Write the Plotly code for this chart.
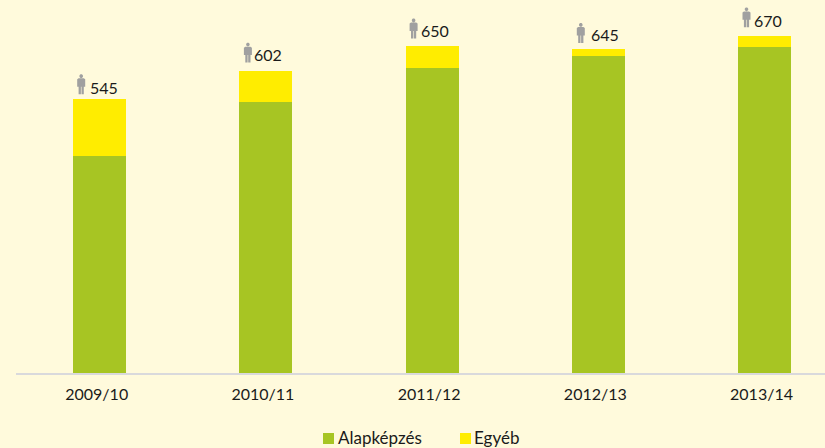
import plotly.graph_objects as go

# --- data ---
years = ["2009/10", "2010/11", "2011/12", "2012/13", "2013/14"]
alapkepzes = [432, 539, 607, 631, 649]
egyeb = [113, 63, 43, 14, 21]
totals = [545, 602, 650, 645, 670]
series_names = ["Alapképzés", "Egyéb"]

# --- style ---
BG = "#FFFADC"
GREEN = "#A7C523"
YELLOW = "#FFED00"
GREY = "#A0A0A0"
TEXT = "#1A1A1A"
FONT = "Lato"

# label / icon offsets from each bar's top centre, in pixels
label_dx = [4.5, 2.5, 3, 6.5, 3.5]
label_dy = [12, 16, 16, 14, 16]
icon_dx = [-18.5, -18, -18.5, -17.5, -18]
icon_dy = [5, 8, 8, 6, 9]

W, H = 825, 448
L, BOTTOM = 16, 75
PX_PER_UNIT = 0.5025
CAT_W = 166.2
FIRST_CENTRE = 99.7


fig = go.Figure()
fig.add_bar(x=years, y=alapkepzes, name=series_names[0], marker_color=GREEN, marker_line_width=0, width=0.32)
fig.add_bar(x=years, y=egyeb, name=series_names[1], marker_color=YELLOW, marker_line_width=0, width=0.32)


def person(dx, dy):
    pts = [(-0.9, 15.8), (-2.6, 15.8), (-4, 14.8), (-4, 7.5), (-2.6, 7.5), (-2.6, 0),
           (-0.3, 0), (-0.3, 7.5), (0.3, 7.5), (0.3, 0), (2.6, 0), (2.6, 7.5), (4, 7.5),
           (4, 14.8), (2.6, 15.8), (0.9, 15.8)]
    body = "M" + " L".join(f"{x + dx},{y + dy}" for x, y in pts) + " Z"
    cy = 18 + dy
    r = 1.8
    k = r * 1.33
    head = (f" M{dx - r},{cy} C{dx - r},{cy + k} {dx + r},{cy + k} {dx + r},{cy}"
            f" C{dx + r},{cy - k} {dx - r},{cy - k} {dx - r},{cy} Z")
    return body + head


shapes = []
annotations = []
for i, (yr, tot) in enumerate(zip(years, totals)):
    shapes.append(dict(type="path", xref="x", yref="y", xsizemode="pixel", ysizemode="pixel",
                       xanchor=i, yanchor=tot, path=person(icon_dx[i], icon_dy[i]),
                       fillcolor=GREY, line_width=0, layer="above"))
    annotations.append(dict(x=yr, y=tot, xref="x", yref="y", text=str(tot), showarrow=False,
                            xanchor="center", yanchor="middle", xshift=label_dx[i], yshift=label_dy[i],
                            font=dict(family=FONT, size=16, color=TEXT)))

# legend drawn to match the tight swatch / text spacing of the original
legend_swatch_x = [323, 460]
legend_text_x = [338, 474]
legend_colors = [GREEN, YELLOW]
for name, sx, tx, col in zip(series_names, legend_swatch_x, legend_text_x, legend_colors):
    shapes.append(dict(type="rect", xref="paper", yref="paper",
                       x0=(sx - L) / (W - L), x1=(sx + 11 - L) / (W - L),
                       y0=(373 - 444) / 373, y1=(373 - 433) / 373,
                       fillcolor=col, line_width=0))
    annotations.append(dict(x=(tx - L) / (W - L), y=(373 - 437) / 373, xref="paper", yref="paper",
                            text=name, showarrow=False, xanchor="left", yanchor="middle", xshift=-2,
                            font=dict(family=FONT, size=17, color=TEXT)))

range_start = -(FIRST_CENTRE - L) / CAT_W
fig.update_layout(
    width=W, height=H, barmode="stack", showlegend=False,
    paper_bgcolor=BG, plot_bgcolor=BG,
    margin=dict(l=L, r=0, t=0, b=BOTTOM, autoexpand=False),
    font=dict(family=FONT, size=16, color=TEXT),
    shapes=shapes, annotations=annotations,
    xaxis=dict(type="category", categoryorder="array", categoryarray=years,
               range=[range_start, range_start + (W - L) / CAT_W], showgrid=False, zeroline=False,
               showline=True, linecolor="#D9D9DC", linewidth=2, ticks="", ticklabelstandoff=6,
               ticklabelshift=-3,
               tickfont=dict(family=FONT, size=16, color=TEXT)),
    yaxis=dict(range=[0, 373 / PX_PER_UNIT], visible=False, showgrid=False, zeroline=False),
)

fig.write_html("out.html", config=dict(displayModeBar=False),
               post_script="document.body.style.margin='0';document.body.style.overflow='hidden';")
